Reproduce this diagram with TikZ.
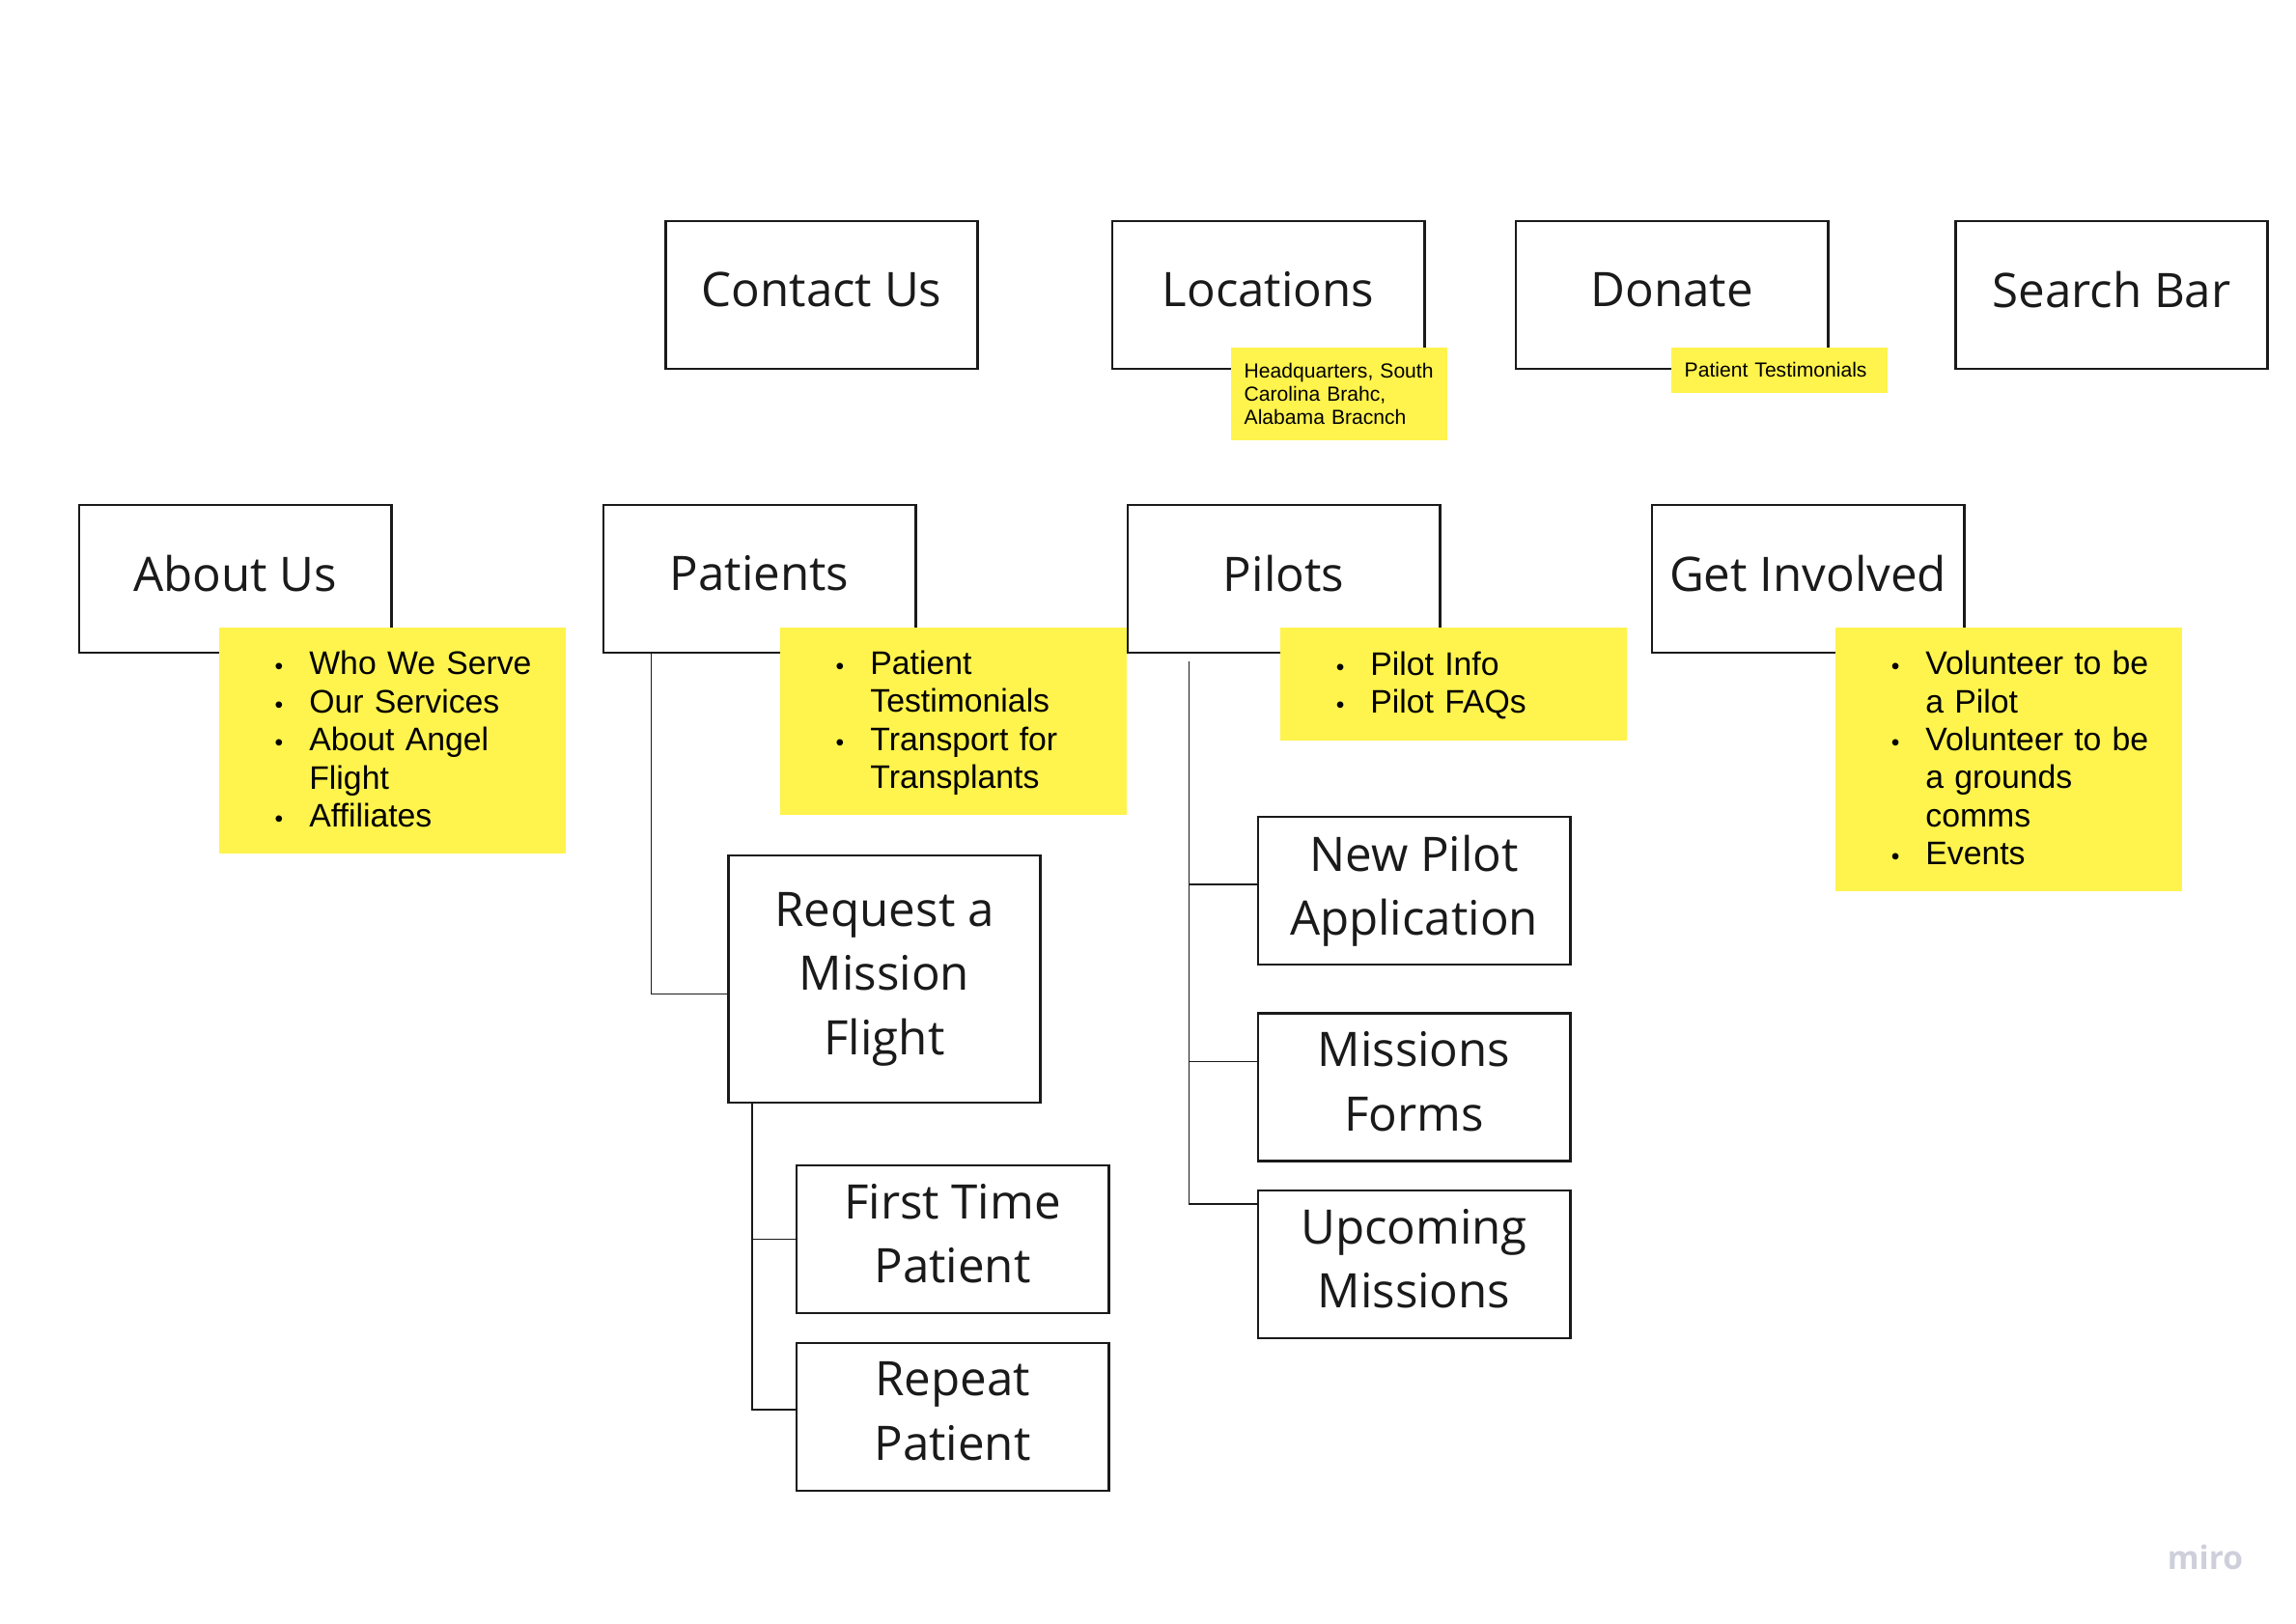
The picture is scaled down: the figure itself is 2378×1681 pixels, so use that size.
\documentclass[tikz,border=0pt]{standalone}
\usepackage{fontspec}
\setmainfont{Open Sans}
\newfontfamily\notefont{Liberation Sans}
\usepackage{xcolor}
\usepackage{tikz}
\usetikzlibrary{positioning,calc}
\definecolor{stickyyellow}{HTML}{FFF34D}
\definecolor{inkblack}{HTML}{1A1A1A}
\definecolor{mirogray}{HTML}{CFCFDC}
\newcommand{\bul}{{\fontsize{7}{7}\selectfont\textbullet}}
\newcommand{\stickylist}[1]{\hspace*{0.58cm}\raisebox{0pt}[\dimexpr\height+0.06cm][\depth]{\begin{tabular}{@{}l@{\hspace{0.27cm}}l@{}}#1\end{tabular}}}
\tikzstyle{pagebox}=[rectangle, draw=inkblack, line width=0.8pt, minimum width=3.23cm, minimum height=1.53cm, inner sep=0pt, align=center, text=inkblack, font=\fontsize{14}{18.9}\selectfont, execute at end node=\vphantom{g}]
\tikzstyle{sticky}=[rectangle, fill=stickyyellow, anchor=north west, inner sep=0pt, text width=3.59cm, align=left, text=black, font=\notefont\fontsize{9.6}{11.2}\selectfont]
\tikzstyle{stickytag}=[rectangle, fill=stickyyellow, anchor=north west, inner xsep=0.14cm, inner ysep=0pt, text width=1.96cm, align=left, text=black, font=\notefont\fontsize{6}{6.9}\selectfont]
\tikzstyle{branch}=[draw=inkblack, line width=0.5pt]

\begin{document}
\begin{tikzpicture}[x=0.01cm,y=-0.01cm]
\fill[white] (0,0) rectangle (2378,1681);
\useasboundingbox (0,0) rectangle (2378,1681);
%Top Row
\node[pagebox] (con) at (851,305.5){Contact Us};
\node[pagebox] (loc) at (1313.5,305.5){Locations};
\node[pagebox] (don) at (1731.5,305.5){Donate};
\node[pagebox] (srch) at (2187,305.5){Search Bar};
%Main Row
\node[pagebox] (abt) at (243.5,599.5){About Us};
\node[pagebox] (pat) at (786.5,599.5){Patients};
\node[pagebox] (pil) at (1329.5,599.5){Pilots};
\node[pagebox] (get) at (1872.5,599.5){Get Involved};
%Sub Pages
\node[pagebox, minimum height=2.56cm] (req) at (916,1014){Request a\\Mission\\Flight};
\node[pagebox] (ftp) at (986.5,1283.5){First Time\\Patient};
\node[pagebox] (rpp) at (986.5,1467.5){Repeat\\Patient};
\node[pagebox] (npa) at (1464.5,922.5){New Pilot\\Application};
\node[pagebox] (mfm) at (1464.5,1126){Missions\\Forms};
\node[pagebox] (upm) at (1464.5,1309.5){Upcoming\\Missions};
%Sticky Notes
\node[stickytag, minimum height=0.96cm] (locn) at (1274,359){Headquarters, South\\Carolina Brahc,\\Alabama Bracnch};
\node[stickytag, minimum height=0.47cm] (donn) at (1730,359){Patient Testimonials};
\node[sticky, minimum height=2.34cm] (abtn) at (226,649){\stickylist{\bul & Who We Serve\\ \bul & Our Services\\ \bul & About Angel\\ & Flight\\ \bul & Affiliates}};
\node[sticky, minimum height=1.94cm] (patn) at (807,649){\stickylist{\bul & Patient\\ & Testimonials\\ \bul & Transport for\\ & Transplants}};
\node[sticky, minimum height=1.17cm] (piln) at (1325,649){\stickylist{\bul & Pilot Info\\ \bul & Pilot FAQs}};
\node[sticky, minimum height=2.73cm] (getn) at (1900,649){\stickylist{\bul & Volunteer to be\\ & a Pilot\\ \bul & Volunteer to be\\ & a grounds\\ & comms\\ \bul & Events}};
%Branches
\draw[branch] ($(pat.south west)+(51,0)$) |- ($(req.north west)!0.56!(req.south west)$);
\draw[branch] ($(req.south west)+(26,0)$) |- (ftp.west);
\draw[branch] ($(req.south west)+(26,0)$) |- ($(rpp.north west)!0.45!(rpp.south west)$);
\draw[branch] ($(pil.south west)+(65,8)$) |- ($(upm.north west)!0.1!(upm.south west)$);
\draw[branch] ($(pil.south west)+(65,8)$) |- ($(npa.north west)!0.46!(npa.south west)$);
\draw[branch] ($(pil.south west)+(65,8)$) |- ($(mfm.north west)!0.33!(mfm.south west)$);
%Watermark
\node[font=\bfseries\fontsize{9.5}{10}\selectfont, text=mirogray] (miro) at (2284,1613){miro};
\end{tikzpicture}
\end{document}
